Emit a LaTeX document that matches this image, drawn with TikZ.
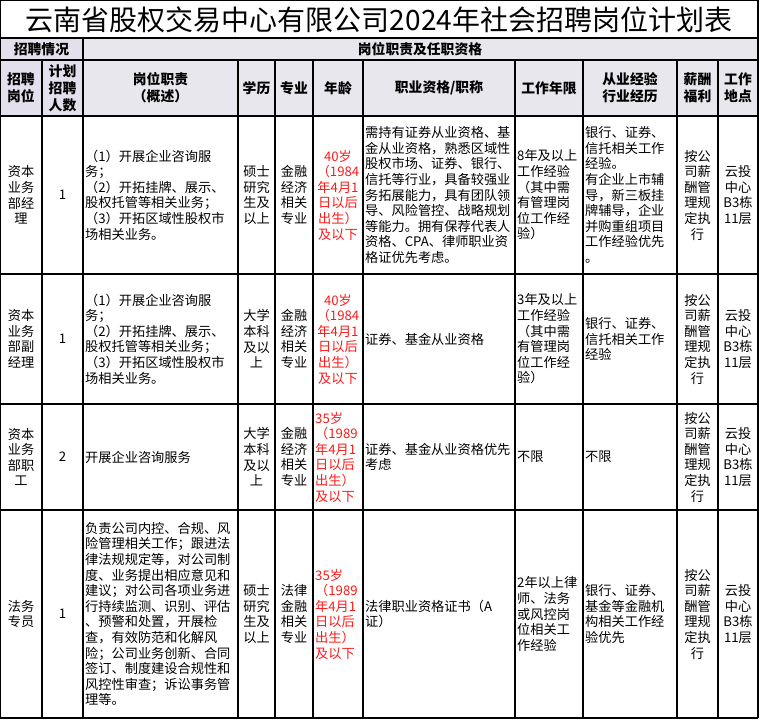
\documentclass[tikz,border=0pt]{standalone}
\usepackage{fontspec}
\usepackage{tikz}
\newfontfamily\cjk{Noto Sans CJK SC}
\definecolor{hcolA}{HTML}{E4DFEC}
\definecolor{hcolB}{HTML}{E8E7ED}
\definecolor{agecol}{HTML}{FF1A1A}
\newcommand\titlefont{\cjk\fontsize{28}{32}\selectfont}
\newcommand\headfont{\cjk\bfseries\fontsize{13.8}{17}\selectfont}
\newcommand\bodyfont{\cjk\fontsize{13.2}{15.6}\selectfont}
\tikzstyle{grid}=[line width=1.2pt, black]
\tikzstyle{htext}=[align=center, inner sep=0pt, font=\headfont]
\tikzstyle{ctext}=[align=center, inner sep=0pt, font=\bodyfont]
\tikzstyle{ltext}=[align=left, anchor=west, inner sep=0pt, font=\bodyfont]
\tikzstyle{agec}=[ctext, text=agecol]
\tikzstyle{agel}=[ltext, text=agecol]

\begin{document}
\begin{tikzpicture}[x=1pt, y=-1pt]
\useasboundingbox (0,0) rectangle (760,720);
% Header fills
\fill[hcolA] (0,38) rectangle (83,116);
\fill[hcolB] (83,38) rectangle (758,116);

% Horizontal
\draw[grid] (0,0.6) -- (758,0.6);
\draw[grid] (0,38) -- (758,38);
\draw[grid] (0,60) -- (758,60);
\draw[grid] (0,116) -- (758,116);
\draw[grid] (0,274) -- (758,274);
\draw[grid] (0,404) -- (758,404);
\draw[grid] (0,510) -- (758,510);
\draw[grid] (0,718) -- (758,718);
% Vertical
\draw[grid] (0.6,0) -- (0.6,718);
\draw[grid] (758,0) -- (758,718);
\draw[grid] (83,38) -- (83,718);
\draw[grid] (42,60) -- (42,718);
\draw[grid] (238,60) -- (238,718);
\draw[grid] (275,60) -- (275,718);
\draw[grid] (313,60) -- (313,718);
\draw[grid] (363,60) -- (363,718);
\draw[grid] (515,60) -- (515,718);
\draw[grid] (583,60) -- (583,718);
\draw[grid] (677,60) -- (677,718);
\draw[grid] (718,60) -- (718,718);

% Title and headers
\node[font=\titlefont, inner sep=0pt] (title) at (379,20) {云南省股权交易中心有限公司2024年社会招聘岗位计划表};
\node[htext] (hplan) at (41.5,49) {招聘情况};
\node[htext] (hduty) at (420,49) {岗位职责及任职资格};
\node[htext] (hpos) at (21,88) {招聘\\岗位};
\node[htext] (hnum) at (62.5,88) {计划\\招聘\\人数};
\node[htext] (hdesc) at (160.5,88) {岗位职责\\（概述）};
\node[htext] (hedu) at (256.5,88) {学历};
\node[htext] (hmajor) at (294,88) {专业};
\node[htext] (hage) at (338,88) {年龄};
\node[htext] (hqual) at (439,88) {职业资格/职称};
\node[htext] (hyears) at (549,88) {工作年限};
\node[htext] (hexp) at (630,88) {从业经验\\行业经历};
\node[htext] (hpay) at (697.5,88) {薪酬\\福利};
\node[htext] (hsite) at (738,88) {工作\\地点};

% Row 1
\node[ctext] (pos1) at (21,195) {资本\\业务\\部经\\理};
\node[ctext] (num1) at (62.5,195) {1};
\node[ltext] (duty1) at (85,195) {（1）开展企业咨询服\\务；\\（2）开拓挂牌、展示、\\股权托管等相关业务；\\（3）开拓区域性股权市\\场相关业务。};
\node[ctext] (edu1) at (256.5,195) {硕士\\研究\\生及\\以上};
\node[ctext] (major1) at (294,195) {金融\\经济\\相关\\专业};
\node[agec] (age1) at (338,195) {40岁\\（1984\\年4月1\\日以后\\出生）\\及以下};
\node[ltext] (qual1) at (365,195) {需持有证券从业资格、基\\金从业资格，熟悉区域性\\股权市场、证券、银行、\\信托等行业，具备较强业\\务拓展能力，具有团队领\\导、风险管控、战略规划\\等能力。拥有保荐代表人\\资格、CPA、律师职业资\\格证优先考虑。};
\node[ltext] (years1) at (517,195) {8年及以上\\工作经验\\（其中需\\有管理岗\\位工作经\\验）};
\node[ltext] (exp1) at (585,195) {银行、证券、\\信托相关工作\\经验。\\有企业上市辅\\导，新三板挂\\牌辅导，企业\\并购重组项目\\工作经验优先\\。};
\node[ctext] (pay1) at (697.5,195) {按公\\司薪\\酬管\\理规\\定执\\行};
\node[ctext] (site1) at (738,195) {云投\\中心\\B3栋\\11层};

% Row 2
\node[ctext] (pos2) at (21,339) {资本\\业务\\部副\\经理};
\node[ctext] (num2) at (62.5,339) {1};
\node[ltext] (duty2) at (85,339) {（1）开展企业咨询服\\务；\\（2）开拓挂牌、展示、\\股权托管等相关业务；\\（3）开拓区域性股权市\\场相关业务。};
\node[ctext] (edu2) at (256.5,339) {大学\\本科\\及以\\上};
\node[ctext] (major2) at (294,339) {金融\\经济\\相关\\专业};
\node[agec] (age2) at (338,339) {40岁\\（1984\\年4月1\\日以后\\出生）\\及以下};
\node[ltext] (qual2) at (365,339) {证券、基金从业资格};
\node[ltext] (years2) at (517,339) {3年及以上\\工作经验\\（其中需\\有管理岗\\位工作经\\验）};
\node[ltext] (exp2) at (585,339) {银行、证券、\\信托相关工作\\经验};
\node[ctext] (pay2) at (697.5,339) {按公\\司薪\\酬管\\理规\\定执\\行};
\node[ctext] (site2) at (738,339) {云投\\中心\\B3栋\\11层};

% Row 3
\node[ctext] (pos3) at (21,457) {资本\\业务\\部职\\工};
\node[ctext] (num3) at (62.5,457) {2};
\node[ltext] (duty3) at (85,457) {开展企业咨询服务};
\node[ctext] (edu3) at (256.5,457) {大学\\本科\\及以\\上};
\node[ctext] (major3) at (294,457) {金融\\经济\\相关\\专业};
\node[agel] (age3) at (315,457) {35岁\\（1989\\年4月1\\日以后\\出生）\\及以下};
\node[ltext] (qual3) at (365,457) {证券、基金从业资格优先\\考虑};
\node[ltext] (years3) at (517,457) {不限};
\node[ltext] (exp3) at (585,457) {不限};
\node[ctext] (pay3) at (697.5,457) {按公\\司薪\\酬管\\理规\\定执\\行};
\node[ctext] (site3) at (738,457) {云投\\中心\\B3栋\\11层};

% Row 4
\node[ctext] (pos4) at (21,614) {法务\\专员};
\node[ctext] (num4) at (62.5,614) {1};
\node[ltext] (duty4) at (85,614) {负责公司内控、合规、风\\险管理相关工作；跟进法\\律法规规定等，对公司制\\度、业务提出相应意见和\\建议；对公司各项业务进\\行持续监测、识别、评估\\、预警和处置，开展检\\查，有效防范和化解风\\险；公司业务创新、合同\\签订、制度建设合规性和\\风控性审查；诉讼事务管\\理等。};
\node[ctext] (edu4) at (256.5,614) {硕士\\研究\\生及\\以上};
\node[ctext] (major4) at (294,614) {法律\\金融\\相关\\专业};
\node[agel] (age4) at (315,614) {35岁\\（1989\\年4月1\\日以后\\出生）\\及以下};
\node[ltext] (qual4) at (365,614) {法律职业资格证书（A\\证）};
\node[ltext] (years4) at (517,614) {2年以上律\\师、法务\\或风控岗\\位相关工\\作经验};
\node[ltext] (exp4) at (585,614) {银行、证券、\\基金等金融机\\构相关工作经\\验优先};
\node[ctext] (pay4) at (697.5,614) {按公\\司薪\\酬管\\理规\\定执\\行};
\node[ctext] (site4) at (738,614) {云投\\中心\\B3栋\\11层};
\end{tikzpicture}
\end{document}
